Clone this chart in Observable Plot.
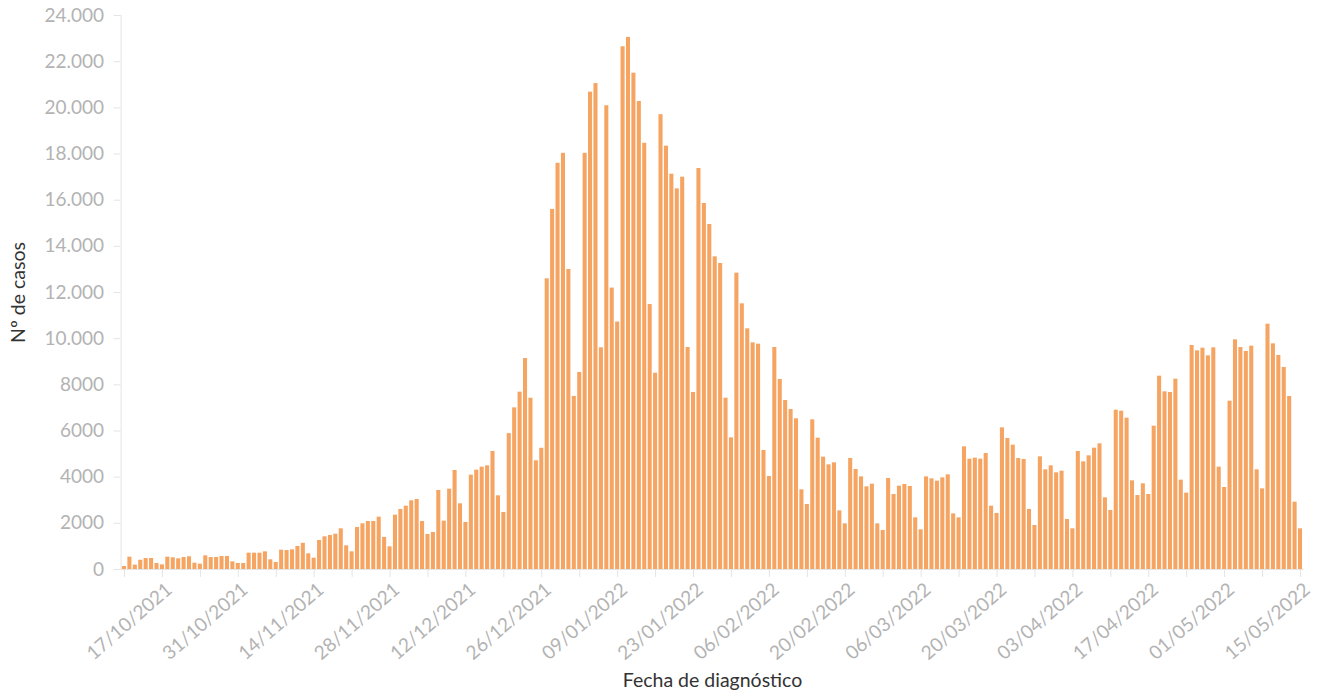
<!DOCTYPE html>
<html>
<head>
<meta charset="utf-8">
<script src="https://cdn.jsdelivr.net/npm/d3@7"></script>
<script src="https://cdn.jsdelivr.net/npm/@observablehq/plot@0.6"></script>
<style>
  html, body { margin: 0; padding: 0; background: #fff; }
  #chart { width: 1325px; height: 695px; }
</style>
</head>
<body>
<div id="chart"></div>
<script>
// Primer día de la serie (17/10/2021) y casos diarios por fecha de diagnóstico
const primerDia = [2021, 9, 17];
const casos = [
  130, 535, 190, 400, 477, 477, 260, 202, 535, 505, 462, 520, 549, 274, 231, 592, 520, 520, 563, 563,
  332, 260, 260, 707, 707, 707, 765, 419, 303, 838, 823, 852, 997, 1135, 679,
  491, 1257, 1416, 1473, 1531, 1762, 1025, 765, 1820, 1979, 2080, 2080, 2267, 1387, 982,
  2354, 2600, 2744, 2975, 3033, 2080, 1517, 1603, 3423, 2094, 3480, 4290, 2845, 2037,
  4087, 4304, 4434, 4492, 5113, 3192, 2470,
  5886, 7001, 7683, 9139, 7420, 4709, 5251, 12593, 15598, 17597, 18030, 12996, 7497, 8535,
  18030, 20679, 21051, 9604, 20090, 12191, 10719, 22646, 23050, 21500, 20276, 18464, 11478, 8504,
  19703, 18340,
  17126, 16490, 16996, 9617, 7668, 17371, 15855, 14945, 13545, 13256, 7422, 5704, 12837, 11509,
  10426, 9819, 9761, 5155, 4029, 9617, 8231, 7321, 6931, 6527, 3451,
  2816, 6484, 5689, 4866, 4534, 4621, 2541, 1978, 4809, 4332, 4014, 3581, 3697, 1978, 1689,
  3942, 3249, 3610, 3682, 3596, 2238, 1718, 4014, 3928, 3827, 3971, 4101, 2411, 2238,
  5314, 4780, 4823, 4780, 5025, 2744, 2426,
  6137, 5675, 5386, 4809, 4765, 2599, 1906, 4881, 4318, 4491, 4188, 4260, 2166, 1762,
  5112, 4664, 4924, 5256, 5444, 3105, 2556, 6902, 6859, 6556, 3841, 3206, 3711, 3249,
  6209, 8375, 7697, 7668, 8245, 3870, 3307, 9704,
  9473, 9588, 9256, 9603, 4433, 3552, 7292, 9949, 9617, 9444, 9675, 4318, 3494,
  10628, 9776, 9270, 8751, 7494, 2917, 1762
];
const etiquetasX = [
  "17/10/2021", "31/10/2021", "14/11/2021", "28/11/2021", "12/12/2021", "26/12/2021",
  "09/01/2022", "23/01/2022", "06/02/2022", "20/02/2022", "06/03/2022", "20/03/2022",
  "03/04/2022", "17/04/2022", "01/05/2022", "15/05/2022"
];
const ticksY = [0, 2000, 4000, 6000, 8000, 10000, 12000, 14000, 16000, 18000, 20000, 22000, 24000];
const tituloX = "Fecha de diagnóstico";
const tituloY = "Nº de casos";

const fmtFecha = d3.utcFormat("%d/%m/%Y");
const inicio = new Date(Date.UTC(...primerDia));
const fechas = casos.map((_, i) => fmtFecha(d3.utcDay.offset(inicio, i)));
const datos = casos.map((v, i) => ({fecha: fechas[i], casos: v}));
const ticksSemana = fechas.filter((_, i) => i % 7 === 0);
const fmtY = d => d >= 10000 ? d3.format(",")(d).replace(/,/g, ".") : String(d);

const gris = "#e4e4e4";
const grisTexto = "#b3b3b3";

const chart = Plot.plot({
  width: 1325,
  height: 695,
  marginLeft: 120.6,
  marginRight: 21.6,
  marginTop: 15,
  marginBottom: 126,
  style: {fontFamily: "Lato, 'Open Sans', sans-serif", background: "#fff", overflow: "visible"},
  x: {type: "band", domain: fechas, padding: 0.25, axis: null},
  y: {domain: [0, 24000], axis: null},
  marks: [
    Plot.axisY({ticks: ticksY, tickFormat: fmtY, tickSize: 7, tickPadding: 10, stroke: gris, fill: grisTexto, fontSize: 19, label: null}),
    Plot.axisX({ticks: ticksSemana, tickFormat: () => "", tickSize: 8, stroke: gris, label: null}),
    Plot.frame({anchor: "left", stroke: gris}),
    Plot.barY(datos, {x: "fecha", y: "casos", fill: "#f5a462"}),
    Plot.ruleY([0], {stroke: gris}),
    Plot.text(etiquetasX, {x: d => d, text: d => d, frameAnchor: "bottom", textAnchor: "middle", lineAnchor: "middle", dy: 52, dx: 5, rotate: -41, fill: grisTexto, fontSize: 19}),
    Plot.text([tituloX], {text: d => d, frameAnchor: "bottom", textAnchor: "middle", lineAnchor: "middle", dy: 111, fill: "#333", fontSize: 19.5}),
    Plot.text([tituloY], {text: d => d, frameAnchor: "left", textAnchor: "middle", lineAnchor: "middle", dx: -102, rotate: -90, fill: "#333", fontSize: 19.5})
  ]
});
document.getElementById("chart").appendChild(chart);
</script>
</body>
</html>
